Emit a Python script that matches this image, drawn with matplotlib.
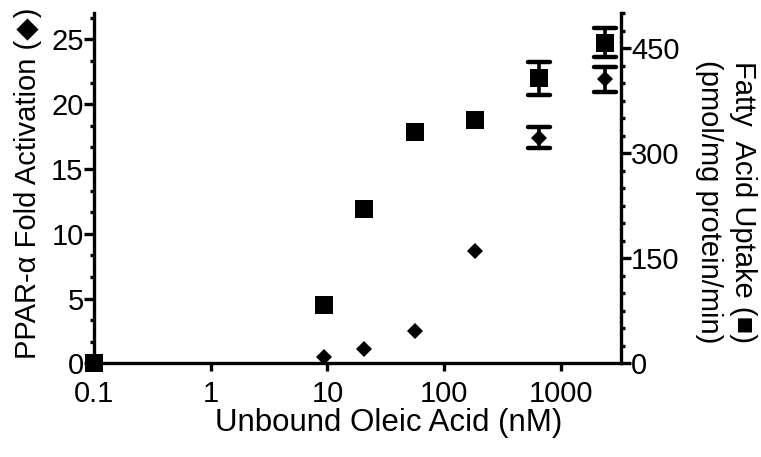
import numpy as np
import matplotlib
matplotlib.use("Agg")
import matplotlib.pyplot as plt
from matplotlib.ticker import FixedLocator, FixedFormatter, NullLocator
from matplotlib.markers import MarkerStyle

# Unbound oleic acid concentration (nM)
conc = [0.1, 9.35, 20.6, 56.7, 183, 647, 2410]
# PPAR-alpha fold activation (left axis, diamonds)
ppar_fold = [0, 0.5, 1.1, 2.5, 8.7, 17.4, 21.9]
ppar_err = [0, 0, 0, 0, 0, 0.8, 0.95]
# Fatty acid uptake, pmol/mg protein/min (right axis, squares)
uptake = [0, 83, 220, 330, 347, 407, 458]
uptake_err = [0, 0, 0, 0, 0, 23, 21]

x_ticks = [0.1, 1, 10, 100, 1000]
x_tick_labels = ["0.1", "1", "10", "100", "1000"]
left_ticks = [0, 5, 10, 15, 20, 25]
right_ticks = [0, 150, 300, 450]

plt.rcParams['font.family'] = ['Liberation Sans', 'DejaVu Sans']

W, H = 761, 457
fig = plt.figure(figsize=(W / 100, H / 100), dpi=100)
ax = fig.add_axes([94 / W, (H - 363.3) / H, (620.5 - 94) / W, (363.3 - 13.4) / H])
ax2 = ax.twinx()

lw = 2.4
for a in (ax, ax2):
    a.patch.set_visible(False)
    for s in a.spines.values():
        s.set_linewidth(lw)
    a.spines['top'].set_visible(False)
ax.spines['right'].set_visible(False)
ax2.spines['left'].set_visible(False)
ax2.spines['bottom'].set_visible(False)

ax.set_xscale('log')
ax.set_xlim(0.1, 3245)
ax.set_ylim(0, 27)
ax2.set_ylim(0, 500)

ax.xaxis.set_major_locator(FixedLocator(x_ticks))
ax.xaxis.set_major_formatter(FixedFormatter(x_tick_labels))
ax.xaxis.set_minor_locator(NullLocator())
ax.set_yticks(left_ticks)
ax.yaxis.set_minor_locator(FixedLocator(np.arange(0, 27, 5 / 3)))
ax2.set_yticks(right_ticks)
ax2.yaxis.set_minor_locator(FixedLocator(np.arange(0, 501, 25)))

ax.tick_params(axis='x', which='major', length=6, width=lw, labelsize=21, pad=6)
ax.tick_params(axis='y', which='major', length=7, width=lw, labelsize=21, pad=0.5)
ax.tick_params(axis='y', which='minor', length=3, width=lw)
ax2.tick_params(axis='y', which='major', length=7, width=lw, labelsize=21, pad=0.5)
ax2.tick_params(axis='y', which='minor', length=3, width=lw)

round_cap = MarkerStyle('_', capstyle='round')

def draw_series(a, x, y, err, marker, ms):
    a.plot(x, y, linestyle='none', marker=marker, ms=ms, color='black',
           mew=0, clip_on=False, zorder=3)
    xe = [xi for xi, e in zip(x, err) if e > 0]
    ye = [yi for yi, e in zip(y, err) if e > 0]
    ee = [e for e in err if e > 0]
    _, caps, bars = a.errorbar(xe, ye, yerr=ee, fmt='none', ecolor='black',
                               elinewidth=2.6, capsize=7.8, capthick=3.2,
                               zorder=4)
    for c in caps:
        c.set_marker(round_cap)

draw_series(ax, conc, ppar_fold, ppar_err, 'D', 8.6)
draw_series(ax2, conc, uptake, uptake_err, 's', 12.6)

fig.text(28 / W, 1 - 183 / H, "PPAR-α Fold Activation (◆)", rotation=90,
         ha='center', va='center', fontsize=21)
fig.text(726 / W, 1 - 202 / H,
         "Fatty  Acid Uptake (■)\n(pmol/mg protein/min)", rotation=270,
         ha='center', va='center', fontsize=21, linespacing=1.25,
         multialignment='center')
fig.text(389 / W, 1 - 423 / H, "Unbound Oleic Acid (nM)",
         ha='center', va='center', fontsize=22.5)

fig.savefig('out.png', dpi=100)
